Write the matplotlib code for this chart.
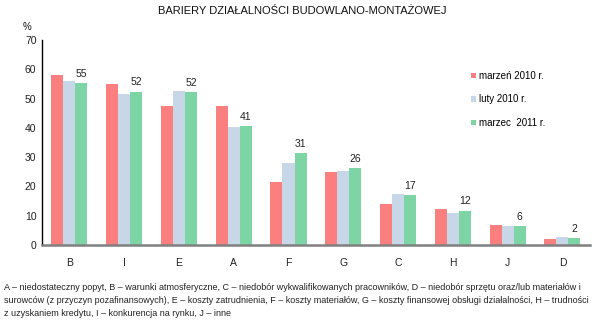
import matplotlib
matplotlib.use("Agg")
import matplotlib.pyplot as plt
import numpy as np

plt.rcParams['font.family'] = ['Liberation Sans', 'DejaVu Sans']

categories = ["B", "I", "E", "A", "F", "G", "C", "H", "J", "D"]
marzec_2010 = [58.1, 54.8, 47.4, 47.4, 21.5, 25.0, 13.9, 12.2, 6.7, 2.0]
luty_2010 = [56.0, 51.5, 52.7, 40.2, 28.1, 25.3, 17.4, 11.0, 6.5, 2.7]
marzec_2011 = [55.2, 52.3, 52.1, 40.6, 31.3, 26.2, 17.1, 11.7, 6.5, 2.4]
series_labels = ["marzeń 2010 r.", "luty 2010 r.", "marzec  2011 r."]
colors = ["#FB7F7F", "#C8D7E8", "#7DD5A5"]

fig = plt.figure(figsize=(6.0, 3.22), dpi=100)
ax = fig.add_axes([0.07, 0.239, 0.913, 0.637])

x = np.arange(len(categories))
w = 0.22
series = [marzec_2010, luty_2010, marzec_2011]
handles = []
for i, (vals, c, lab) in enumerate(zip(series, colors, series_labels)):
    b = ax.bar(x + (i - 1) * w, vals, width=w, color=c, label=lab, linewidth=0)
    handles.append(b)

for xi, v in zip(x, marzec_2011):
    ax.text(xi + w, v + 1.5, f"{v:.0f}", ha="center", va="bottom", fontsize=7.5, color="#222222")

ax.set_xlim(-0.5, len(categories) - 0.5)
ax.set_ylim(0, 70)
ax.set_yticks(range(0, 71, 10))
ax.set_xticks(x)
ax.set_xticklabels(categories)
ax.tick_params(axis="both", length=0, labelsize=7.5, colors="#222222")
ax.tick_params(axis="x", pad=9)
ax.tick_params(axis="y", pad=4)
for s in ["top", "right"]:
    ax.spines[s].set_visible(False)
ax.spines["left"].set_color("#000000")
ax.spines["left"].set_linewidth(1.0)
ax.spines["bottom"].set_color("#808080")
ax.spines["bottom"].set_linewidth(1.8)

fig.text(0.503, 0.966, "BARIERY DZIAŁALNOŚCI BUDOWLANO-MONTAŻOWEJ", ha="center", va="center",
         fontsize=8, color="#111111")
fig.text(0.045, 0.915, "%", ha="center", va="center", fontsize=7, color="#111111")

leg = fig.legend(handles=handles, loc="upper left", bbox_to_anchor=(0.785, 0.78),
                 bbox_transform=fig.transFigure,
                 frameon=False, fontsize=7, handlelength=0.5, handleheight=0.5,
                 handletextpad=0.3, labelspacing=1.4, borderaxespad=0, borderpad=0)

foot = ("A – niedostateczny popyt, B – warunki atmosferyczne, C – niedobór wykwalifikowanych pracowników, D – niedobór sprzętu oraz/lub materiałów i\n"
        "surowców (z przyczyn pozafinansowych), E – koszty zatrudnienia, F – koszty materiałów, G – koszty finansowej obsługi działalności, H – trudności\n"
        "z uzyskaniem kredytu, I – konkurencja na rynku, J – inne")
fig.text(0.006, 0.068, foot, ha="left", va="center", fontsize=6.5, color="#222222", linespacing=1.58)

fig.savefig("out.png", dpi=100)
